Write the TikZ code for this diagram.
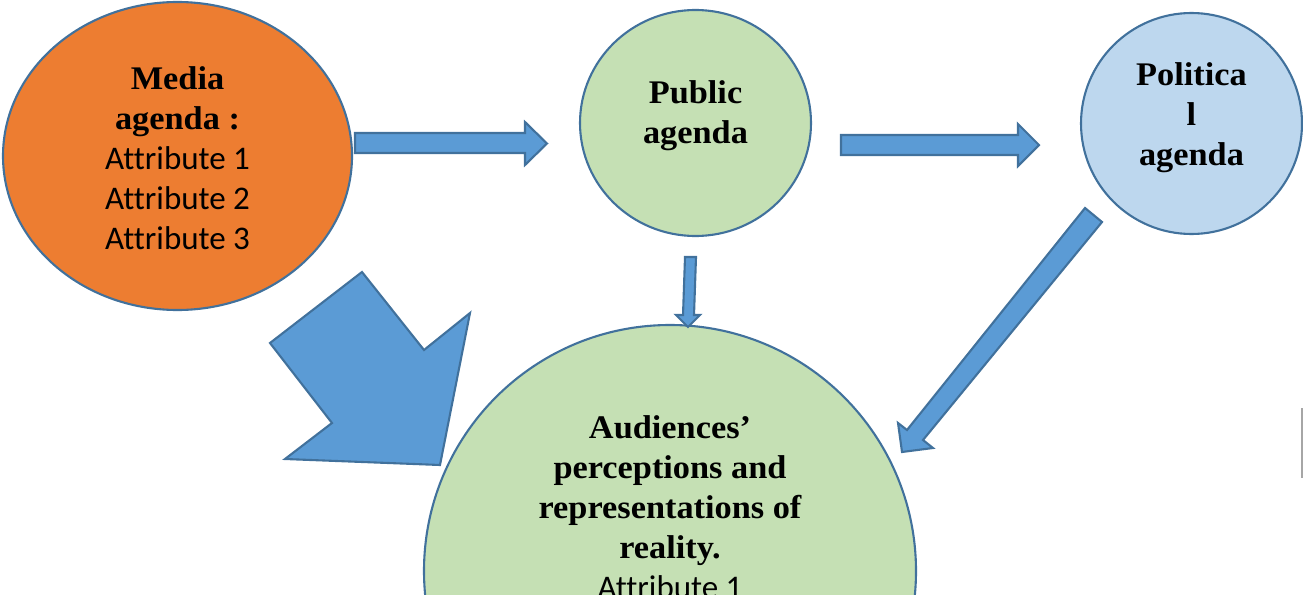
\documentclass[tikz,border=0pt]{standalone}
\usepackage{fontspec}
\setmainfont{Liberation Serif}[FakeStretch=1.04]
\newfontfamily\attrfont{Carlito}[Ligatures={NoCommon,NoContextual},Contextuals=NoAlternate]
\usetikzlibrary{shapes.geometric}
\definecolor{edgeblue}{HTML}{41719C}
\definecolor{arrowfill}{HTML}{5B9BD5}
\definecolor{mediaorange}{HTML}{ED7D31}
\definecolor{softgreen}{HTML}{C5E0B4}
\definecolor{softblue}{HTML}{BDD7EE}
\begin{document}
\begin{tikzpicture}[x=1pt,y=-1pt,
  bubble/.style={ellipse, draw=edgeblue, line width=2.1pt, inner sep=0pt},
  blockarrow/.style={fill=arrowfill, draw=edgeblue, line width=2.1pt, line join=miter},
  caption/.style={align=center, font=\fontsize{33}{40}\selectfont\bfseries, inner sep=0pt}]
\useasboundingbox (0,0) rectangle (1303,594);
% shapes
\node[bubble, fill=mediaorange, minimum width=349pt, minimum height=308pt] (media) at (177.5,156) {};
\node[bubble, fill=softgreen, minimum width=231pt, minimum height=226pt] (public) at (695.5,123) {};
\node[bubble, fill=softblue, minimum width=221pt, minimum height=221pt] (political) at (1191.5,123.5) {};
\node[bubble, fill=softgreen, minimum width=492pt, minimum height=492pt] (aud) at (670,571) {};
% texts
\node[caption] (mediatext) at (177.5,158.3) {Media\\agenda :\\{\attrfont\mdseries Attribute 1}\\{\attrfont\mdseries Attribute 2}\\{\attrfont\mdseries Attribute 3}};
\node[caption] (publictext) at (695.5,115.5) {Public\\agenda};
\node[caption] (politicaltext) at (1191.5,117.4) {Politica\\l\\agenda};
\node[caption] (audtext) at (670,507) {Audiences’\\perceptions and\\representations of\\reality.\\{\attrfont\mdseries Attribute 1}};
% block arrows
\draw[blockarrow] (355,133) -- (525,133) -- (525,122) -- (547,143.5) -- (525,165) -- (525,153) -- (355,153) -- cycle;
\draw[blockarrow] (841,135) -- (1018,135) -- (1018,124) -- (1039,145) -- (1018,166) -- (1018,155) -- (841,155) -- cycle;
\draw[blockarrow] (685,257) -- (696,257) -- (694,315) -- (700,315) -- (688,327) -- (676,315) -- (683,315) -- cycle;
\draw[blockarrow] (1085,208) -- (1102,222) -- (923,440) -- (933,448) -- (902,452) -- (898,423) -- (907,430) -- cycle;
\draw[blockarrow] (362,272) -- (424,350) -- (470,313) -- (440,465) -- (285,459) -- (332,423) -- (270,343) -- cycle;
% stray rule at the right edge
\draw[gray!70, line width=1.2pt] (1302,408) -- (1302,478);
\end{tikzpicture}
\end{document}
